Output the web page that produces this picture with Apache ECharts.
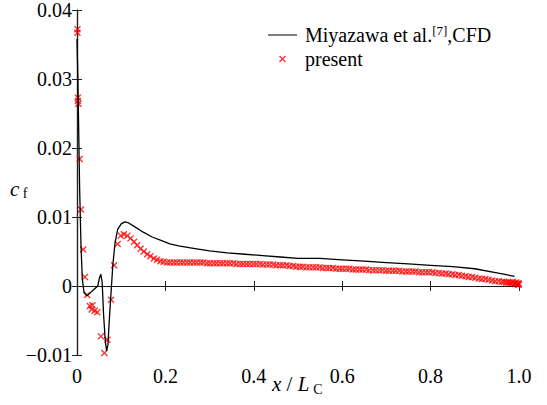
<!DOCTYPE html>
<html>
<head>
<meta charset="utf-8">
<script src="https://cdn.jsdelivr.net/npm/echarts@6/dist/echarts.min.js"></script>
<style>
  html, body { margin: 0; padding: 0; background: #fff; }
  #chart { width: 547px; height: 405px; }
</style>
</head>
<body>
<div id="chart"></div>
<script>
// x/Lc ticks and cf ticks
var xTicks = [0, 0.2, 0.4, 0.6, 0.8, 1.0];
var yTicks = [-0.01, 0, 0.01, 0.02, 0.03, 0.04];

// Miyazawa et al. CFD line, [x/Lc, cf]
var cfdData = [
  [0.000, 0.0358], [0.002, 0.0300], [0.004, 0.0220], [0.006, 0.0140], [0.009, 0.0060],
  [0.012, 0.0010], [0.016, -0.0010], [0.022, -0.0014], [0.030, -0.0010], [0.040, -0.0004],
  [0.047, 0.0000], [0.051, 0.0012], [0.054, 0.0017], [0.057, 0.0005], [0.060, -0.0040],
  [0.064, -0.0080], [0.067, -0.0094], [0.070, -0.0085], [0.073, -0.0050], [0.077, -0.0010],
  [0.081, 0.0030], [0.086, 0.0062], [0.092, 0.0082], [0.100, 0.0090], [0.108, 0.0093],
  [0.115, 0.0092], [0.130, 0.0086], [0.150, 0.0078], [0.170, 0.0071], [0.190, 0.0066],
  [0.210, 0.0061], [0.230, 0.0058], [0.260, 0.0055], [0.300, 0.0051], [0.340, 0.0048],
  [0.380, 0.0046], [0.420, 0.0044], [0.460, 0.0042], [0.500, 0.0040], [0.550, 0.0040],
  [0.600, 0.0038], [0.650, 0.0036], [0.700, 0.0034], [0.750, 0.0032], [0.800, 0.0030],
  [0.850, 0.0028], [0.900, 0.0025], [0.950, 0.0019], [0.990, 0.0014]
];

// present results, [x/Lc, cf]
var presentData = [
  [0.001, 0.0372], [0.001, 0.0367], [0.002, 0.0273], [0.002, 0.0268], [0.003, 0.0264],
  [0.006, 0.0184], [0.009, 0.0111], [0.014, 0.0053], [0.018, 0.0013], [0.023, -0.0013],
  [0.029, -0.0029], [0.033, -0.0034], [0.035, -0.0028], [0.040, -0.0036], [0.046, -0.0038],
  [0.054, -0.0073], [0.062, -0.0097], [0.069, -0.0078], [0.077, -0.0020], [0.084, 0.0030],
  [0.092, 0.0061],
  [0.099, 0.0073], [0.106, 0.0075], [0.114, 0.0073], [0.121, 0.0069], [0.129, 0.0064],
  [0.136, 0.0059], [0.144, 0.0054], [0.151, 0.0050], [0.159, 0.0046], [0.166, 0.0043],
  [0.174, 0.0040], [0.181, 0.0038], [0.189, 0.0036], [0.196, 0.0035], [0.204, 0.0034],
  [0.211, 0.0034], [0.219, 0.0034], [0.226, 0.0034], [0.234, 0.0034], [0.241, 0.0034],
  [0.249, 0.0034], [0.256, 0.0034], [0.264, 0.0034], [0.271, 0.0034], [0.279, 0.0034],
  [0.286, 0.0034], [0.294, 0.0033], [0.301, 0.0033], [0.309, 0.0033], [0.316, 0.0033],
  [0.324, 0.0033], [0.331, 0.0033], [0.339, 0.0033], [0.346, 0.0033], [0.354, 0.0033],
  [0.361, 0.0032], [0.369, 0.0032], [0.376, 0.0032], [0.384, 0.0032], [0.391, 0.0032],
  [0.399, 0.0032], [0.406, 0.0032], [0.414, 0.0032], [0.421, 0.0031], [0.429, 0.0031],
  [0.436, 0.0031], [0.444, 0.0031], [0.451, 0.0030], [0.459, 0.0030], [0.466, 0.0030],
  [0.474, 0.0030], [0.481, 0.0029], [0.489, 0.0029], [0.496, 0.0028], [0.504, 0.0028],
  [0.511, 0.0028], [0.519, 0.0027], [0.526, 0.0027], [0.534, 0.0027], [0.541, 0.0027],
  [0.549, 0.0027], [0.556, 0.0026], [0.564, 0.0026], [0.571, 0.0026], [0.579, 0.0026],
  [0.586, 0.0025], [0.594, 0.0025], [0.601, 0.0025], [0.609, 0.0025], [0.616, 0.0025],
  [0.624, 0.0024], [0.631, 0.0024], [0.639, 0.0024], [0.646, 0.0024], [0.654, 0.0024],
  [0.661, 0.0023], [0.669, 0.0023], [0.676, 0.0023], [0.684, 0.0023], [0.691, 0.0023],
  [0.699, 0.0022], [0.706, 0.0022], [0.714, 0.0022], [0.721, 0.0022], [0.729, 0.0022],
  [0.736, 0.0021], [0.744, 0.0021], [0.751, 0.0021], [0.759, 0.0021], [0.766, 0.0021],
  [0.774, 0.0020], [0.781, 0.0020], [0.789, 0.0020], [0.796, 0.0020], [0.804, 0.0020],
  [0.811, 0.0019], [0.819, 0.0019], [0.826, 0.0018], [0.834, 0.0018], [0.841, 0.0017],
  [0.849, 0.0017], [0.856, 0.0016], [0.864, 0.0016], [0.871, 0.0015], [0.879, 0.0014],
  [0.886, 0.0013], [0.894, 0.0013], [0.901, 0.0012], [0.909, 0.0011], [0.916, 0.0010],
  [0.924, 0.0010], [0.931, 0.0009], [0.939, 0.0008], [0.946, 0.0007], [0.954, 0.0007],
  [0.961, 0.0006], [0.966, 0.0006], [0.971, 0.0005], [0.975, 0.0005], [0.979, 0.0005],
  [0.983, 0.0004], [0.986, 0.0006], [0.989, 0.0004], [0.992, 0.0003], [0.994, 0.0005],
  [0.996, 0.0003], [0.998, 0.0002], [0.999, 0.0004], [1.000, 0.0002]
];

var serif = 'Liberation Serif';
var crossPath = 'path://M0,1.4L1.4,0L5,3.6L8.6,0L10,1.4L6.4,5L10,8.6L8.6,10L5,6.4L1.4,10L0,8.6L3.6,5Z';
// thin bar inside a 29x7 box (corner specks keep the box size)
var lineIcon = 'path://M0,0H0.01V0.01H0Z M0,2.9H29V4.1H0Z M28.99,6.99H29V7H28.99Z';
var tickRich = { t: { fontFamily: serif, fontSize: 20, color: '#000' } };

var myChart = echarts.init(document.getElementById('chart'), null, { renderer: 'svg' });

var frame = { show: true, lineStyle: { color: '#222', width: 1.2 } };
var option = {
  animation: false,
  backgroundColor: '#fff',
  textStyle: { fontFamily: serif },
  grid: { left: 77, right: 28, top: 10, bottom: 50 },
  legend: {
    left: 263,
    top: 19,
    orient: 'vertical',
    itemWidth: 29,
    itemHeight: 7,
    itemGap: 4,
    selectedMode: false,
    data: [{ name: 'cfd', icon: lineIcon }, { name: 'present' }],
    formatter: function (name) {
      if (name === 'cfd') return '{a|Miyazawa et al.}{s|[7]}{a|,CFD}';
      return '{a|present}';
    },
    textStyle: {
      fontFamily: serif,
      padding: [0, 0, 0, 3],
      rich: {
        a: { fontFamily: serif, fontSize: 20, color: '#000', lineHeight: 22 },
        s: { fontFamily: serif, fontSize: 13, color: '#000', lineHeight: 22, verticalAlign: 'top', padding: [0, 0, 8, 0] }
      }
    }
  },
  xAxis: [{
    type: 'value', min: 0, max: 1, interval: 0.2,
    axisLine: frame,
    axisTick: { show: true, inside: true, length: 5, lineStyle: { color: '#222' } },
    splitLine: { show: false },
    axisLabel: {
      margin: 11, rich: tickRich,
      formatter: function (v) { return '{t|' + (v === 0 ? '0' : v.toFixed(1)) + '}'; }
    }
  }, {
    type: 'value', min: 0, max: 1, interval: 0.2, position: 'top',
    axisLine: frame,
    axisTick: { show: true, inside: true, length: 5, lineStyle: { color: '#222' } },
    splitLine: { show: false },
    axisLabel: { show: false }
  }],
  yAxis: [{
    type: 'value', min: -0.01, max: 0.04, interval: 0.01,
    axisLine: frame,
    axisTick: { show: true, inside: true, length: 5, lineStyle: { color: '#222' } },
    splitLine: { show: false },
    axisLabel: {
      margin: 5, rich: tickRich,
      formatter: function (v) {
        var s = Math.abs(v) < 1e-9 ? '0' : v.toFixed(2).replace('-', '\u2212');
        return '{t|' + s + '}';
      }
    }
  }, {
    type: 'value', min: -0.01, max: 0.04, interval: 0.01, position: 'right',
    axisLine: frame,
    axisTick: { show: true, inside: true, length: 5, lineStyle: { color: '#222' } },
    splitLine: { show: false },
    axisLabel: { show: false }
  }],
  graphic: [{
    type: 'text', left: 10, top: 178,
    style: {
      text: '{i|c}{sub| f}',
      rich: {
        i: { fontFamily: serif, fontSize: 21, fontStyle: 'italic', fill: '#000' },
        sub: { fontFamily: serif, fontSize: 14, fill: '#000', padding: [10, 0, 0, 0] }
      }
    }
  }, {
    type: 'text', left: 272, top: 373,
    style: {
      text: '{i|x}{n| / }{i|L}{sub|C}',
      rich: {
        i: { fontFamily: serif, fontSize: 21, fontStyle: 'italic', fill: '#000' },
        n: { fontFamily: serif, fontSize: 21, fill: '#000' },
        sub: { fontFamily: serif, fontSize: 14, fill: '#000', padding: [11, 0, 0, 4] }
      }
    }
  }],
  series: [{
    name: 'cfd',
    type: 'line',
    data: cfdData,
    symbol: 'none',
    z: 3,
    lineStyle: { color: '#000', width: 1.3 },
    itemStyle: { color: '#000' },
    markLine: {
      silent: true,
      symbol: ['none', 'none'],
      label: { show: false },
      lineStyle: { color: '#000', width: 0.8, type: [1, 2] },
      data: [{ yAxis: 0 }]
    }
  }, {
    name: 'present',
    type: 'scatter',
    data: presentData,
    symbol: crossPath,
    symbolSize: 7,
    z: 2,
    itemStyle: { color: '#ff0000' }
  }]
};

if (option && typeof option === 'object') {
  myChart.setOption(option, true);
}
</script>
</body>
</html>
